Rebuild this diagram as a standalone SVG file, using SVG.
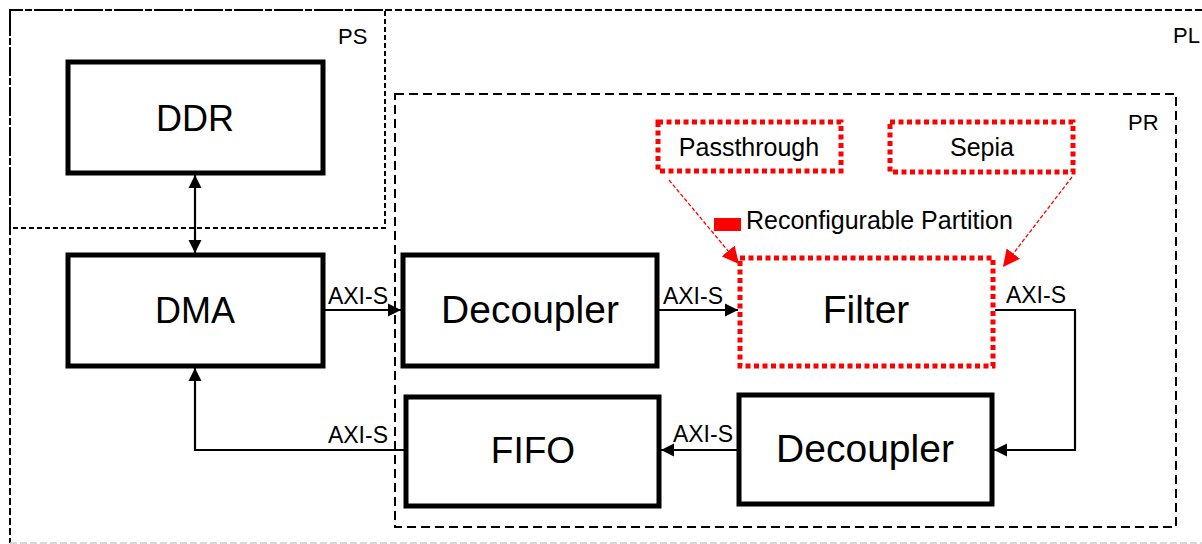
<svg xmlns="http://www.w3.org/2000/svg" width="1202" height="544" viewBox="0 0 1202 544">
<style>
.region{fill:none;stroke:#000;stroke-width:2}
.box{fill:#fff;stroke:#000;stroke-width:5}
.rp{fill:#fff;stroke:#f00;stroke-width:5;stroke-dasharray:5 3.5}
.big{font-family:"Liberation Sans",Arial,sans-serif;font-size:37px;fill:#000;text-anchor:middle}
.mid{font-family:"Liberation Sans",Arial,sans-serif;font-size:23px;fill:#000}
.lab{font-family:"Liberation Sans",Arial,sans-serif;font-size:25px;fill:#000}
.reg{font-family:"Liberation Sans",Arial,sans-serif;font-size:22px;fill:#000}
.conn{fill:none;stroke:#000;stroke-width:2.2}
.red{fill:none;stroke:#f00;stroke-width:1.3;stroke-dasharray:4 2}
</style>
<defs>
<marker id="ah" viewBox="0 0 10 10" refX="10" refY="5" markerWidth="6" markerHeight="6" markerUnits="strokeWidth" orient="auto-start-reverse">
<path d="M0,0 L10,5 L0,10 z" fill="#000"/>
</marker>
<marker id="rah" viewBox="0 0 10 10" refX="10" refY="5" markerWidth="13" markerHeight="13" markerUnits="strokeWidth" orient="auto">
<path d="M0,0 L10,5 L0,10 z" fill="#f00"/>
</marker>
</defs>
<rect width="1202" height="544" fill="#fff"/>
<g id="PL">
<path class="region" d="M1202,10 H10 V543" stroke-dasharray="7 3"/>
<path d="M10,543 H1202" fill="none" stroke="#ccc" stroke-width="1.5" stroke-dasharray="7 3"/>
<text class="reg" x="1173" y="43">PL</text>
</g>
<g id="PS">
<rect class="region" x="10" y="10" width="375" height="218" stroke-dasharray="5 3"/>
<text class="reg" x="338" y="44">PS</text>
</g>
<g id="PR">
<rect class="region" x="395" y="94" width="781" height="433" stroke-dasharray="9 5"/>
<text class="reg" x="1128" y="130">PR</text>
</g>
<g id="connectors">
<line class="conn" x1="195" y1="175" x2="195" y2="253" marker-start="url(#ah)" marker-end="url(#ah)"/>
<line class="conn" x1="325" y1="310" x2="401" y2="310" marker-end="url(#ah)"/>
<line class="conn" x1="659" y1="310" x2="738" y2="310" marker-end="url(#ah)"/>
<polyline class="conn" points="995,310 1075,310 1075,450 994,450" marker-end="url(#ah)"/>
<line class="conn" x1="737" y1="450" x2="661" y2="450" marker-end="url(#ah)"/>
<polyline class="conn" points="404,450 195,450 195,368" marker-end="url(#ah)"/>
<line class="red" x1="669" y1="180" x2="739" y2="264" marker-end="url(#rah)"/>
<line class="red" x1="1072" y1="177" x2="1003" y2="267" marker-end="url(#rah)"/>
<text class="mid" x="388" y="304" text-anchor="end">AXI-S</text>
<text class="mid" x="723" y="304" text-anchor="end">AXI-S</text>
<text class="mid" x="1066" y="303" text-anchor="end">AXI-S</text>
<text class="mid" x="733" y="442" text-anchor="end">AXI-S</text>
<text class="mid" x="388" y="443" text-anchor="end">AXI-S</text>
</g>
<g id="DDR">
<rect class="box" x="68" y="62" width="255" height="111"/>
<text class="big" x="195" y="131" style="font-size:36px">DDR</text>
</g>
<g id="DMA">
<rect class="box" x="68" y="255" width="255" height="111"/>
<text class="big" x="195" y="323" style="font-size:36px">DMA</text>
</g>
<g id="Decoupler1">
<rect class="box" x="403" y="255" width="254" height="111"/>
<text class="big" x="530" y="323" style="font-size:39px">Decoupler</text>
</g>
<g id="Filter">
<rect class="rp" x="740" y="258" width="253" height="108"/>
<text class="big" x="866" y="323" style="font-size:39px">Filter</text>
</g>
<g id="FIFO">
<rect class="box" x="406" y="397" width="253" height="109"/>
<text class="big" x="533" y="463">FIFO</text>
</g>
<g id="Decoupler2">
<rect class="box" x="739" y="395" width="253" height="109"/>
<text class="big" x="865" y="462" style="font-size:39px">Decoupler</text>
</g>
<g id="Passthrough">
<rect class="rp" x="658" y="122" width="183" height="49"/>
<text class="lab" x="749" y="156" text-anchor="middle">Passthrough</text>
</g>
<g id="Sepia">
<rect class="rp" x="890" y="122" width="183" height="50"/>
<text class="lab" x="982" y="156" text-anchor="middle">Sepia</text>
</g>
<g id="legend">
<rect x="714" y="218" width="27" height="13" fill="#f00"/>
<text class="lab" x="746" y="229">Reconfigurable Partition</text>
</g>
</svg>
